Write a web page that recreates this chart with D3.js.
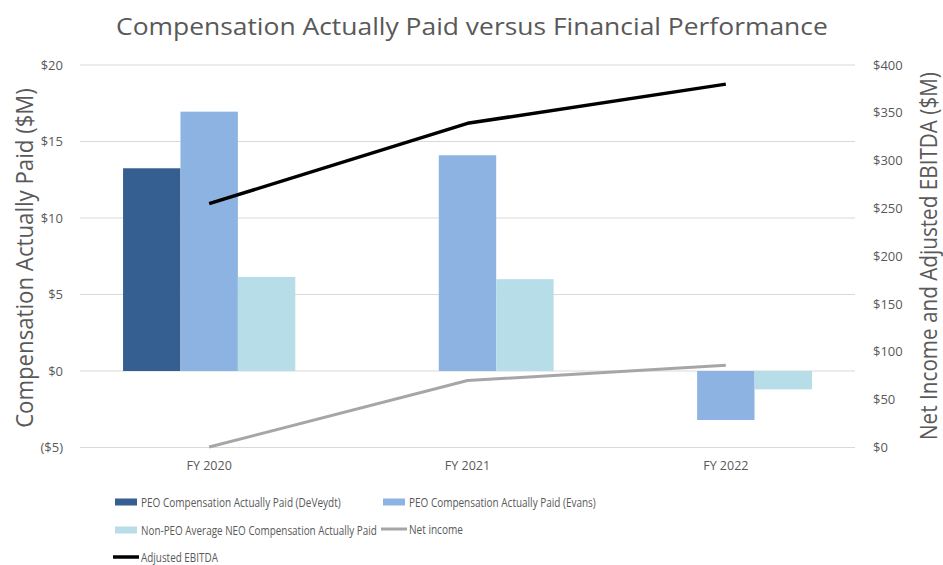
<!DOCTYPE html>
<html><head><meta charset="utf-8">
<script src="https://cdn.jsdelivr.net/npm/d3@7"></script>
<style>body{margin:0;background:#fff;} text{font-family:"Open Sans","Noto Sans",sans-serif;}</style>
</head><body><svg id="c" width="943" height="565"></svg>
<script>
const categories = ["FY 2020","FY 2021","FY 2022"];
const peoDeVeydt = [13.25, null, null];
const peoEvans = [16.95, 14.1, -3.2];
const nonPeoAvg = [6.15, 6.0, -1.2];
const netIncome = [0.5, 70, 86];
const adjEbitda = [255, 339, 380];
const leftTicks = [-5,0,5,10,15,20];
const rightTicks = [0,50,100,150,200,250,300,350,400];
const barSeries = [
  {name:"PEO Compensation Actually Paid (DeVeydt)", values:peoDeVeydt, color:"#365f91"},
  {name:"PEO Compensation Actually Paid (Evans)", values:peoEvans, color:"#8db3e2"},
  {name:"Non-PEO Average NEO Compensation Actually Paid", values:nonPeoAvg, color:"#b7dde8"}
];
const lineSeries = [
  {name:"Net income", values:netIncome, color:"#a6a6a6", w:3},
  {name:"Adjusted EBITDA", values:adjEbitda, color:"#000000", w:3.5}
];

const svg = d3.select("#c");
const L = 80, R = 855, T = 65, B = 447.5;
const x = d3.scaleBand().domain(categories).range([L,R]);
const yL = d3.scaleLinear().domain([-5,20]).range([B,T]);
const yR = d3.scaleLinear().domain([0,400]).range([B,T]);
const barW = x.bandwidth()/4.5; // Excel gap width 150%
const xs = d3.scaleBand().domain(d3.range(barSeries.length)).range([0, barW*3]);
const gray = "#595959";

// condensed text: scale horizontally so text spans the given length
function fitText(g, str, size, len, anchor, tr, rot){
  const t = g.append("text").attr("font-size",size).attr("fill",gray).attr("text-anchor",anchor).text(str);
  const w = t.node().getComputedTextLength();
  const sx = len / w;
  t.attr("transform", tr + (rot?" rotate(-90)":"") + " scale(" + sx + ",1)");
  return t;
}

// gridlines
svg.append("g").selectAll("line").data(leftTicks).join("line")
  .attr("x1",L).attr("x2",R).attr("y1",d=>yL(d)).attr("y2",d=>yL(d))
  .attr("stroke","#d9d9d9").attr("stroke-width",1);

// axis tick labels
const fmtL = d => d<0 ? "($"+(-d)+")" : "$"+d;
svg.append("g").selectAll("text").data(leftTicks).join("text")
  .attr("x",63).attr("y",d=>yL(d)).attr("dy","0.35em").attr("text-anchor","end")
  .attr("font-size",13).attr("fill",gray).text(fmtL);
svg.append("g").selectAll("text").data(rightTicks).join("text")
  .attr("x",873).attr("y",d=>yR(d)).attr("dy","0.35em").attr("text-anchor","start")
  .attr("font-size",13).attr("fill",gray).text(d=>"$"+d);

// bars
barSeries.forEach((s,i)=>{
  svg.append("g").selectAll("rect").data(categories.map((c,j)=>({c,v:s.values[j]})).filter(d=>d.v!=null))
    .join("rect")
    .attr("x",d=>x(d.c)+x.bandwidth()/2 - barW*1.5 + xs(i))
    .attr("width",xs.bandwidth())
    .attr("y",d=>Math.min(yL(d.v),yL(0)))
    .attr("height",d=>Math.abs(yL(d.v)-yL(0)))
    .attr("fill",s.color);
});

// lines
lineSeries.forEach(s=>{
  const line = d3.line().x((d,j)=>x(categories[j])+x.bandwidth()/2).y(d=>yR(d));
  svg.append("path").attr("d",line(s.values)).attr("fill","none")
    .attr("stroke",s.color).attr("stroke-width",s.w).attr("stroke-linejoin","round");
});

// x labels
svg.append("g").selectAll("text").data(categories).join("text")
  .attr("x",d=>x(d)+x.bandwidth()/2).attr("y",466).attr("dy","0.35em")
  .attr("text-anchor","middle").attr("font-size",12.5).attr("fill",gray).text(d=>d);

// title
fitText(svg, "Compensation Actually Paid versus Financial Performance", 24, 712, "start", "translate(116,35)", false);

// axis titles
fitText(svg, "Compensation Actually Paid ($M)", 24, 340, "middle", "translate(33,258)", true);
fitText(svg, "Net Income and Adjusted EBITDA ($M)", 24, 368, "middle", "translate(937,256)", true);

// legend
const legend = [
  {s:barSeries[0], type:"bar", x:115, y:502, tx:141, tl:200},
  {s:barSeries[1], type:"bar", x:383, y:502, tx:409, tl:187},
  {s:barSeries[2], type:"bar", x:115, y:530, tx:141, tl:236},
  {s:lineSeries[0], type:"line", x:381, y:529, tx:409, tl:54},
  {s:lineSeries[1], type:"line", x:113, y:557, tx:141, tl:77}
];
legend.forEach(l=>{
  const g = svg.append("g");
  if(l.type==="bar"){
    g.append("rect").attr("x",l.x).attr("y",l.y-3.5).attr("width",22).attr("height",7).attr("fill",l.s.color);
  } else {
    g.append("line").attr("x1",l.x).attr("x2",l.x+26).attr("y1",l.y).attr("y2",l.y)
      .attr("stroke",l.s.color).attr("stroke-width",l.s.w);
  }
  fitText(g, l.s.name, 13, l.tl, "start", "translate(" + l.tx + "," + (l.y+4.5) + ")", false);
});
</script></body></html>
